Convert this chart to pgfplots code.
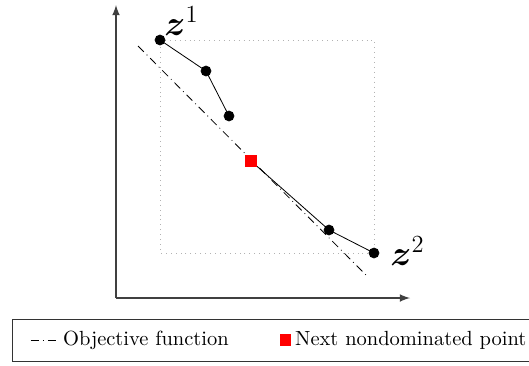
\documentclass[border=0pt]{standalone}
\usepackage{pgfplots}
\usepackage{bm}
\pgfplotsset{compat=1.18}
\pgfplotsset{
  objleg/.style={legend image code/.code={\path (0cm,0cm); \draw[##1] (0.2cm,0cm) -- (0.68cm,0cm);}},
  sqleg/.style={legend image code/.code={\draw[##1] plot coordinates {(2.5pt,0pt)}; \path (0pt,0pt) (5pt,0pt);}},
}
\begin{document}
\begin{tikzpicture}
\begin{axis}[
  x=0.488pt, y=0.488pt,
  xmin=116, xmax=410, ymin=67, ymax=360,
  axis lines=left,
  axis line style={-latex, line width=0.7pt, black!75},
  xtick=\empty, ytick=\empty,
  clip=false,
  legend columns=2,
  legend style={at={(-0.3537,-0.1433)}, anchor=west, draw=black!80, font=\normalsize,
    inner ysep=4pt,
    /tikz/every even column/.append style={column sep=23pt}},
]
% dotted box
\addplot[black!30, dotted, forget plot] coordinates {(160,325) (374,325) (374,112) (160,112) (160,325)};
% objective function
\addplot[black, dash pattern=on 4pt off 2pt on 0.4pt off 2pt, line width=0.4pt, objleg] coordinates {(138,319) (366,90)};
\addlegendentry{Objective function}
% nondominated paths
\addplot[black, mark=*, mark size=2.4pt, forget plot] coordinates {(160,325) (206,294) (229,249)};
\addplot[black, mark=*, mark size=2.4pt, forget plot] coordinates {(251,204) (329,135) (374,112)};
% next point
\addplot[only marks, mark=square*, mark size=2.5pt, red, mark options={draw=red, fill=red}, sqleg] coordinates {(251,204)};
\addlegendentry{Next nondominated point}
\node[anchor=south west, inner sep=0pt, font=\LARGE] at (axis cs:164,329) {$\bm{z}^1$};
\node[anchor=west, inner sep=0pt, font=\LARGE] at (axis cs:390,114) {$\bm{z}^2$};
\coordinate (bbsw) at (axis cs:0,0);
\coordinate (bbne) at (axis cs:529,365);
\end{axis}
\pgfresetboundingbox
\path (bbsw) rectangle (bbne);
\end{tikzpicture}
\end{document}
